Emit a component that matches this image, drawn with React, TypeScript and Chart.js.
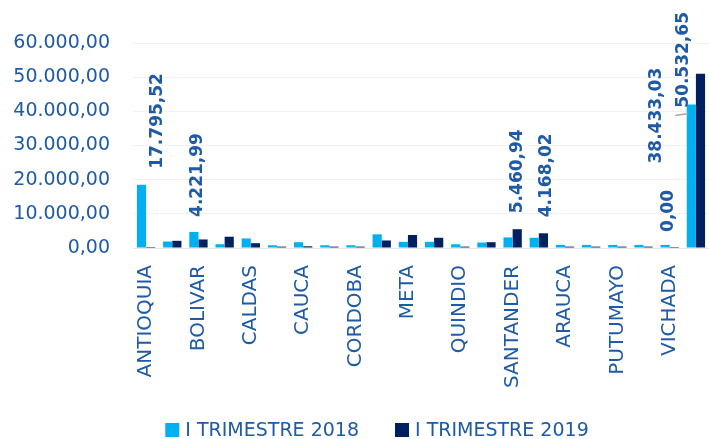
import React, { useEffect, useRef } from "react";
import { Chart, registerables } from "chart.js";

Chart.register(...registerables);

const CATEGORIES = [
  "ANTIOQUIA", "ATLANTICO", "BOLIVAR", "BOYACA", "CALDAS", "CAQUETA",
  "CAUCA", "CESAR", "CORDOBA", "CUNDINAMARCA", "META", "NARIÑO",
  "QUINDIO", "RISARALDA", "SANTANDER", "TOLIMA", "ARAUCA", "CASANARE",
  "PUTUMAYO", "GUAVIARE", "VICHADA", "TOTAL",
];

const SERIES_2018 = [
  18500, 1900, 4700, 1100, 2800, 800, 1700, 800, 800, 4000, 1800, 1800,
  1100, 1600, 3100, 3000, 900, 900, 900, 900, 900, 42000,
];

const SERIES_2019 = [
  300, 2100, 2500, 3300, 1400, 400, 500, 400, 400, 2200, 3800, 3000,
  400, 1700, 5500, 4300, 400, 400, 400, 400, 300, 51000,
];

const SERIES_NAMES = ["I TRIMESTRE 2018", "I TRIMESTRE 2019"];

const Y_TICKS_MAX = 60000;
const Y_TICKS_STEP = 10000;

// data labels: dataset index, category index, text
const LABEL_DATASET = [0, 0, 1, 1, 0, 0, 1];
const LABEL_INDEX = [0, 2, 14, 15, 20, 21, 21];
const LABEL_TEXT = ["17.795,52", "4.221,99", "5.460,94", "4.168,02", "0,00", "38.433,03", "50.532,65"];
// label placement offsets relative to bar top (style)
const LABEL_DX = [16, 4, 0, 3, 3, -35, -17];
const LABEL_DY = [-16, -15, -16, -16, -13, 59, 34];

const BLUE_TEXT = "#1F5AA6";
const LIGHT = "#00B0F0";
const DARK = "#002060";

function fmt(v: number): string {
  const fixed = Math.abs(v).toFixed(2);
  const [intPart, dec] = fixed.split(".");
  const withDots = intPart.replace(/\B(?=(\d{3})+(?!\d))/g, ".");
  return (v < 0 ? "-" : "") + withDots + "," + dec;
}

const dataLabelPlugin = {
  id: "customDataLabels",
  afterDatasetsDraw(chart: any) {
    const ctx = chart.ctx;
    ctx.save();
    ctx.font = "bold 17px 'DejaVu Sans'";
    ctx.fillStyle = BLUE_TEXT;
    ctx.textAlign = "left";
    ctx.textBaseline = "middle";
    for (let i = 0; i < LABEL_TEXT.length; i++) {
      const meta = chart.getDatasetMeta(LABEL_DATASET[i]);
      const el = meta.data[LABEL_INDEX[i]];
      if (!el) continue;
      const x = el.x + LABEL_DX[i];
      const y = el.y + LABEL_DY[i];
      ctx.save();
      ctx.translate(x, y);
      ctx.rotate(-Math.PI / 2);
      ctx.fillText(LABEL_TEXT[i], 0, 0);
      ctx.restore();
    }
    // leader line for the last label
    const m1 = chart.getDatasetMeta(0).data[21];
    if (m1) {
      ctx.strokeStyle = "#A6A6A6";
      ctx.lineWidth = 1.5;
      ctx.beginPath();
      ctx.moveTo(m1.x - 16, m1.y + 11);
      ctx.lineTo(m1.x - 3, m1.y + 9);
      ctx.stroke();
    }
    ctx.restore();
  },
};

const legendPlugin = {
  id: "customLegend",
  afterDraw(chart: any) {
    const ctx = chart.ctx;
    ctx.save();
    ctx.font = "19px 'DejaVu Sans'";
    ctx.textBaseline = "middle";
    ctx.textAlign = "left";
    const box = 14;
    const gap = 6;
    const itemGap = 36;
    const colors = [LIGHT, DARK];
    const widths = SERIES_NAMES.map((n) => ctx.measureText(n).width);
    const total = widths.reduce((a, w) => a + box + gap + w, 0) + itemGap;
    const centerX = 377;
    const cy = 430;
    let x = centerX - total / 2;
    SERIES_NAMES.forEach((name, i) => {
      ctx.fillStyle = colors[i];
      ctx.fillRect(x, cy - box / 2, box, box);
      ctx.fillStyle = BLUE_TEXT;
      ctx.fillText(name, x + box + gap, cy + 1);
      x += box + gap + widths[i] + itemGap;
    });
    ctx.restore();
  },
};

export default function App() {
  const ref = useRef<HTMLCanvasElement | null>(null);
  useEffect(() => {
    if (!ref.current) return;
    const chart = new Chart(ref.current, {
      type: "bar",
      data: {
        labels: CATEGORIES,
        datasets: [
          {
            label: SERIES_NAMES[0],
            data: SERIES_2018,
            backgroundColor: LIGHT,
            barPercentage: 1.0,
            categoryPercentage: 0.7,
          },
          {
            label: SERIES_NAMES[1],
            data: SERIES_2019,
            backgroundColor: DARK,
            barPercentage: 1.0,
            categoryPercentage: 0.7,
          },
        ],
      },
      options: {
        responsive: false,
        animation: false,
        layout: { padding: { top: 43, left: 13, right: 0, bottom: 40 } },
        plugins: {
          legend: { display: false },
          tooltip: { enabled: false },
        },
        scales: {
          x: {
            offset: true,
            grid: { display: true, drawTicks: true, tickLength: 17, color: "rgba(0,0,0,0)", drawOnChartArea: false },
            border: { display: true, color: "#E6E6E6" },
            ticks: {
              autoSkip: false,
              minRotation: 90,
              maxRotation: 90,
              padding: 0,
              color: BLUE_TEXT,
              font: { family: "'DejaVu Sans'", size: 20 },
              callback: (_v: any, i: number) => (i % 2 === 0 ? CATEGORIES[i] : null),
            },
            afterFit: (scale: any) => {
              scale.height = 151;
            },
          },
          y: {
            min: 0,
            max: Y_TICKS_MAX,
            grid: { color: "#F2F2F2", drawTicks: false },
            border: { display: false },
            ticks: {
              stepSize: Y_TICKS_STEP,
              padding: 23,
              color: BLUE_TEXT,
              font: { family: "'DejaVu Sans'", size: 19 },
              callback: (v: any) => fmt(Number(v)),
            },
            afterFit: (scale: any) => {
              scale.width = 120;
            },
          },
        },
      },
      plugins: [dataLabelPlugin, legendPlugin],
    });
    return () => chart.destroy();
  }, []);
  return (
    <div style={{ position: "fixed", left: 0, top: 0, width: 709, height: 439, background: "#fff" }}>
      <canvas ref={ref} width={709} height={439} />
    </div>
  );
}
